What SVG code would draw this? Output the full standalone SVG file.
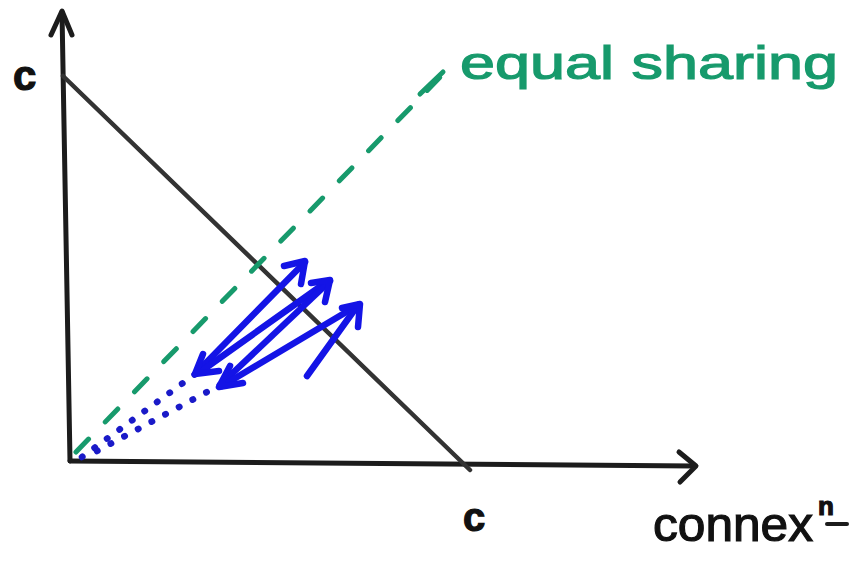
<svg xmlns="http://www.w3.org/2000/svg" width="850" height="565" viewBox="0 0 850 565">
<style>
.ax{stroke:#1c1c1c;stroke-width:5;fill:none;stroke-linecap:round;stroke-linejoin:round}
.bud{stroke:#333;stroke-width:4.5;fill:none;stroke-linecap:round}
.eq{stroke:#179a6c;stroke-width:5;fill:none;stroke-linecap:round;stroke-dasharray:18 24}
.dot{stroke:#1a1ac8;stroke-width:6.5;fill:none;stroke-linecap:round;stroke-dasharray:0.5 15}
.bl{stroke:#1414e6;stroke-width:6.5;fill:none;stroke-linecap:round;stroke-linejoin:round}
.lbl{font-family:"Liberation Sans","DejaVu Sans",sans-serif;fill:#111;stroke:#111;stroke-width:1.2}
.grn{font-family:"Liberation Sans","DejaVu Sans",sans-serif;fill:#179a6c;stroke:#179a6c;stroke-width:1.2}
</style>
<rect width="850" height="565" fill="#fff"/>
<g id="connectors">
  <path class="ax" d="M70,461 L62,12"/>
  <path class="ax" d="M51,35 L62,11 L72,35"/>
  <path class="ax" d="M70,461 L694,466"/>
  <path class="ax" d="M679,452 L696,466 L680,482"/>
  <path class="bud" d="M63,76 L470,470"/>
  <path class="eq" d="M76,452 L445,72"/>
  <path class="eq" d="M420,94 L443,72" style="stroke-dasharray:none"/>
  <path class="dot" d="M82,457 L198,372"/>
  <path class="dot" d="M97,451 L220,385"/>
  <path class="bl" d="M196,373 L305,262"/>
  <path class="bl" d="M200,372 L328,281"/>
  <path class="bl" d="M220,385 L330,281"/>
  <path class="bl" d="M222,386 L358,305"/>
  <path class="bl" d="M307,376 L358,305"/>
  <path class="bl" d="M284,266 L305,261 L301,284"/>
  <path class="bl" d="M311,283 L330,280 L325,302"/>
  <path class="bl" d="M342,308 L360,304 L358,327"/>
  <path class="bl" d="M203,354 L195,374 L219,371"/>
  <path class="bl" d="M230,366 L219,387 L243,383"/>
</g>
<g id="label-c-y"><text class="lbl" x="13" y="90" font-size="42" font-weight="bold">c</text></g>
<g id="label-c-x"><text class="lbl" x="463" y="531" font-size="40" font-weight="bold">c</text></g>
<g id="label-connex">
  <text class="lbl" x="653" y="541" font-size="48" textLength="160" lengthAdjust="spacingAndGlyphs">connex</text>
  <text class="lbl" x="818" y="515" font-size="26" font-weight="bold">n</text>
  <path class="ax" d="M827,524 L847,524" style="stroke-width:4"/>
</g>
<g id="label-equal-sharing"><text class="grn" x="460" y="79" font-size="46" textLength="378" lengthAdjust="spacingAndGlyphs">equal sharing</text></g>
</svg>
